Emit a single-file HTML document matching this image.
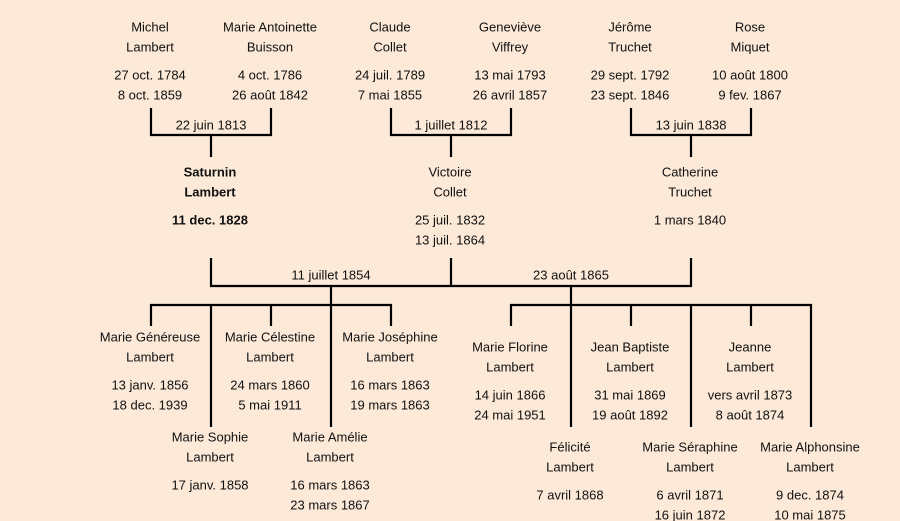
<!DOCTYPE html>
<html><head><meta charset="utf-8"><style>
html,body{margin:0;padding:0;background:#fce9d7;}
svg{display:block;}
text{font-family:"Liberation Sans",sans-serif;font-size:13px;fill:#111;text-anchor:middle;dominant-baseline:central;}
.b{font-weight:bold;}
</style></head><body>
<svg width="900" height="521" viewBox="0 0 900 521" xmlns="http://www.w3.org/2000/svg">
<rect width="900" height="521" fill="#fce9d7"/>
<g stroke="#000" stroke-width="2.2" fill="none">
<path d="M151 108V135H271V108M211 135V157"/>
<path d="M391 108V135H511V108M451 135V157"/>
<path d="M631 108V135H751V108M691 135V157"/>
<path d="M211 258V286H691V258M451 258V286M331 286V305M571 286V305"/>
<path d="M151 326V305H391V326M271 305V326M211 305V427M331 305V427"/>
<path d="M511 326V305H811V427M631 305V326M751 305V326M571 305V427M691 305V427"/>
</g>
<g>
<text x="150" y="27">Michel</text><text x="150" y="47">Lambert</text><text x="150" y="75">27 oct. 1784</text><text x="150" y="95">8 oct. 1859</text>
<text x="270" y="27">Marie Antoinette</text><text x="270" y="47">Buisson</text><text x="270" y="75">4 oct. 1786</text><text x="270" y="95">26 août 1842</text>
<text x="390" y="27">Claude</text><text x="390" y="47">Collet</text><text x="390" y="75">24 juil. 1789</text><text x="390" y="95">7 mai 1855</text>
<text x="510" y="27">Geneviève</text><text x="510" y="47">Viffrey</text><text x="510" y="75">13 mai 1793</text><text x="510" y="95">26 avril 1857</text>
<text x="630" y="27">Jérôme</text><text x="630" y="47">Truchet</text><text x="630" y="75">29 sept. 1792</text><text x="630" y="95">23 sept. 1846</text>
<text x="750" y="27">Rose</text><text x="750" y="47">Miquet</text><text x="750" y="75">10 août 1800</text><text x="750" y="95">9 fev. 1867</text>
<text x="211" y="125">22 juin 1813</text><text x="451" y="125">1 juillet 1812</text><text x="691" y="125">13 juin 1838</text>
<text class="b" x="210" y="172">Saturnin</text><text class="b" x="210" y="192">Lambert</text><text class="b" x="210" y="220">11 dec. 1828</text>
<text x="450" y="172">Victoire</text><text x="450" y="192">Collet</text><text x="450" y="220">25 juil. 1832</text><text x="450" y="240">13 juil. 1864</text>
<text x="690" y="172">Catherine</text><text x="690" y="192">Truchet</text><text x="690" y="220">1 mars 1840</text>
<text x="331" y="275">11 juillet 1854</text><text x="571" y="275">23 août 1865</text>
<text x="150" y="337">Marie Généreuse</text><text x="150" y="357">Lambert</text><text x="150" y="385">13 janv. 1856</text><text x="150" y="405">18 dec. 1939</text>
<text x="270" y="337">Marie Célestine</text><text x="270" y="357">Lambert</text><text x="270" y="385">24 mars 1860</text><text x="270" y="405">5 mai 1911</text>
<text x="390" y="337">Marie Joséphine</text><text x="390" y="357">Lambert</text><text x="390" y="385">16 mars 1863</text><text x="390" y="405">19 mars 1863</text>
<text x="210" y="437">Marie Sophie</text><text x="210" y="457">Lambert</text><text x="210" y="485">17 janv. 1858</text>
<text x="330" y="437">Marie Amélie</text><text x="330" y="457">Lambert</text><text x="330" y="485">16 mars 1863</text><text x="330" y="505">23 mars 1867</text>
<text x="510" y="347">Marie Florine</text><text x="510" y="367">Lambert</text><text x="510" y="395">14 juin 1866</text><text x="510" y="415">24 mai 1951</text>
<text x="630" y="347">Jean Baptiste</text><text x="630" y="367">Lambert</text><text x="630" y="395">31 mai 1869</text><text x="630" y="415">19 août 1892</text>
<text x="750" y="347">Jeanne</text><text x="750" y="367">Lambert</text><text x="750" y="395">vers avril 1873</text><text x="750" y="415">8 août 1874</text>
<text x="570" y="447">Félicité</text><text x="570" y="467">Lambert</text><text x="570" y="495">7 avril 1868</text>
<text x="690" y="447">Marie Séraphine</text><text x="690" y="467">Lambert</text><text x="690" y="495">6 avril 1871</text><text x="690" y="515">16 juin 1872</text>
<text x="810" y="447">Marie Alphonsine</text><text x="810" y="467">Lambert</text><text x="810" y="495">9 dec. 1874</text><text x="810" y="515">10 mai 1875</text>
</g>
</svg>
</body></html>
